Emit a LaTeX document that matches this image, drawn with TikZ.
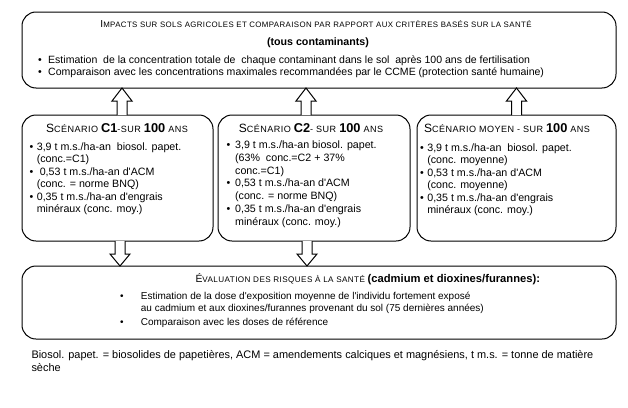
\documentclass[tikz,border=0pt]{standalone}
\usepackage{fontspec}
\setmainfont{Liberation Sans}
\newfontfamily\capsfont[LetterSpace=5]{Liberation Sans}
\usetikzlibrary{calc}
\tikzset{every picture/.style={line width=0.75pt}}
\tikzset{
  roundbox/.style={draw, rounded corners=10.5pt, inner sep=0pt, outer sep=0pt},
  blockarrow/.style={draw, fill=white, line join=miter},
  txt/.style={inner sep=0pt, font=\fontsize{8}{9.4}\selectfont},
}
\newcommand{\smcp}[1]{{\capsfont\fontsize{5.9}{7}\selectfont #1}}
\newcommand{\smcpb}[1]{{\capsfont\fontsize{6.8}{8}\selectfont #1}}
\newcommand{\bignum}[1]{{\bfseries\fontsize{9.6}{10}\selectfont #1}}
\newcommand{\apos}{\textquotesingle}
\newcommand{\hollowarrow}[3]{%
  \draw[blockarrow] ($(#1)+(-5,0)$) -- ($(#2)+(-5,#3)$) -- ($(#2)+(-10,#3)$) -- (#2) -- ($(#2)+(10,#3)$) -- ($(#2)+(5,#3)$) -- ($(#1)+(5,0)$) ;}

\begin{document}
\begin{tikzpicture}[x=0.75pt,y=0.75pt,yscale=-1,xscale=1]
\path[use as bounding box] (0,0) rectangle (628,407);

%Shape: Rounded Rect [impacts]
\node[roundbox, minimum width=445.5pt, minimum height=57pt] (impacts) at (319,50) {};
%Shape: Rounded Rect [scenario C1]
\node[roundbox, minimum width=143.25pt, minimum height=94.5pt] (scenA) at (117.5,178) {};
%Shape: Rounded Rect [scenario C2]
\node[roundbox, minimum width=144pt, minimum height=94.5pt] (scenB) at (314,178) {};
%Shape: Rounded Rect [scenario moyen]
\node[roundbox, minimum width=149.25pt, minimum height=94.5pt] (scenC) at (516.5,178) {};
%Shape: Rounded Rect [evaluation]
\node[roundbox, minimum width=445.5pt, minimum height=54.75pt] (eval) at (319,302.5) {};

%Block Arrows up
\coordinate (upA) at ($(scenA.north)+(4.5,0)$);
\coordinate (upAe) at (upA |- impacts.south);
\coordinate (upB) at ($(scenB.north)+(-8,0)$);
\coordinate (upBe) at (upB |- impacts.south);
\coordinate (upC) at ($(scenC.north)+(0,0)$);
\coordinate (upCe) at (upC |- impacts.south);
\hollowarrow{upA}{upAe}{13}
\hollowarrow{upB}{upBe}{13}
\hollowarrow{upC}{upCe}{13}
%Block Arrows down
\coordinate (dnA) at ($(scenA.south)+(2.5,0)$);
\coordinate (dnAe) at (dnA |- eval.north);
\coordinate (dnB) at ($(scenB.south)+(-7,0)$);
\coordinate (dnBe) at (dnB |- eval.north);
\hollowarrow{dnA}{dnAe}{-12}
\hollowarrow{dnB}{dnBe}{-12}

% Text Node
\node[txt, anchor=base] (impTitle) at (316,27.5) {{\fontsize{7.6}{9}\selectfont I}\smcp{MPACTS SUR SOLS AGRICOLES ET COMPARAISON PAR RAPPORT AUX CRITÈRES BASÉS SUR LA SANTÉ}};
% Text Node
\node[txt, anchor=base] (impSub) at (318,45.5) {\bfseries (tous contaminants)};
% Text Node
\node[txt, anchor=base west, font=\fontsize{7.9}{9}\selectfont] (impList) at (37.7,63.5) {\begin{tabular}[t]{@{}p{7.5pt}@{}l@{}}
\textbullet & Estimation\ \ de la concentration totale de\ \ chaque contaminant dans le sol\ \ après 100 ans de fertilisation\\
\textbullet & Comparaison avec les concentrations maximales recommandées par le CCME (protection santé humaine)
\end{tabular}};

% Text Node
\node[txt, anchor=base] (titleA) at (117,132) {{\fontsize{9}{10}\selectfont S}\smcpb{CÉNARIO }\bignum{C1}\smcpb{-SUR }\bignum{100}\smcpb{ ANS}};
% Text Node
\node[txt, anchor=base west] (listA) at (29,150) {\begin{tabular}[t]{@{}p{5.5pt}@{}l@{}}
\textbullet & 3,9 t m.s./ha-an\ \ biosol. papet.\\
 & (conc.=C1)\\
\textbullet & \ 0,53 t m.s./ha-an d\apos ACM\\
 & (conc. = norme BNQ)\\
\textbullet & 0,35 t m.s./ha-an d\apos engrais\\
 & minéraux (conc. moy.)
\end{tabular}};

% Text Node
\node[txt, anchor=base] (titleB) at (311,132) {{\fontsize{9}{10}\selectfont S}\smcpb{CÉNARIO }\bignum{C2}\smcpb{- SUR }\bignum{100}\smcpb{ ANS}};
% Text Node
\node[txt, anchor=base west, font=\fontsize{8}{9.6}\selectfont] (listB) at (226,148.5) {\begin{tabular}[t]{@{}p{6.5pt}@{}l@{}}
\textbullet & 3,9 t m.s./ha-an biosol. papet.\\
 & (63\%\ \ conc.=C2 + 37\%\\
 & conc.=C1)\\
\textbullet & 0,53 t m.s./ha-an d\apos ACM\\
 & (conc. = norme BNQ)\\
\textbullet & 0,35 t m.s./ha-an d\apos engrais\\
 & minéraux (conc. moy.)
\end{tabular}};

% Text Node
\node[txt, anchor=base] (titleC) at (507,132) {{\fontsize{9}{10}\selectfont S}\smcpb{CÉNARIO MOYEN - SUR }\bignum{100}\smcpb{ ANS}};
% Text Node
\node[txt, anchor=base west] (listC) at (419.5,151) {\begin{tabular}[t]{@{}p{5.5pt}@{}l@{}}
\textbullet & 3,9 t m.s./ha-an\ \ biosol. papet.\\
 & (conc. moyenne)\\
\textbullet & 0,53 t m.s./ha-an d\apos ACM\\
 & (conc. moyenne)\\
\textbullet & 0,35 t m.s./ha-an d\apos engrais\\
 & minéraux (conc. moy.)
\end{tabular}};

% Text Node
\node[txt, anchor=base west] (evalTitle) at (195,282) {{\fontsize{7.8}{9}\selectfont É}{\capsfont\fontsize{6.1}{7}\selectfont VALUATION DES RISQUES À LA SANTÉ }{\bfseries\fontsize{8.4}{9}\selectfont (cadmium et dioxines/furannes):}};
% Text Node
\node[txt, anchor=base west, font=\fontsize{7.5}{9}\selectfont] (evalList) at (119.7,299.5) {\begin{tabular}[t]{@{}p{15.5pt}@{}l@{}}
\textbullet & Estimation de la dose d\apos exposition moyenne de l\apos individu fortement exposé\\
 & au cadmium et aux dioxines/furannes provenant du sol (75 dernières années)\\[1.5pt]
\textbullet & Comparaison avec les doses de référence
\end{tabular}};

% Text Node
\node[txt, anchor=base west, font=\fontsize{8.2}{9.75}\selectfont] (note) at (31,358.5) {\begin{tabular}[t]{@{}l@{}}
Biosol. papet. = biosolides de papetières, ACM = amendements calciques et magnésiens, t m.s. = tonne de matière\\
sèche
\end{tabular}};
\end{tikzpicture}
\end{document}
